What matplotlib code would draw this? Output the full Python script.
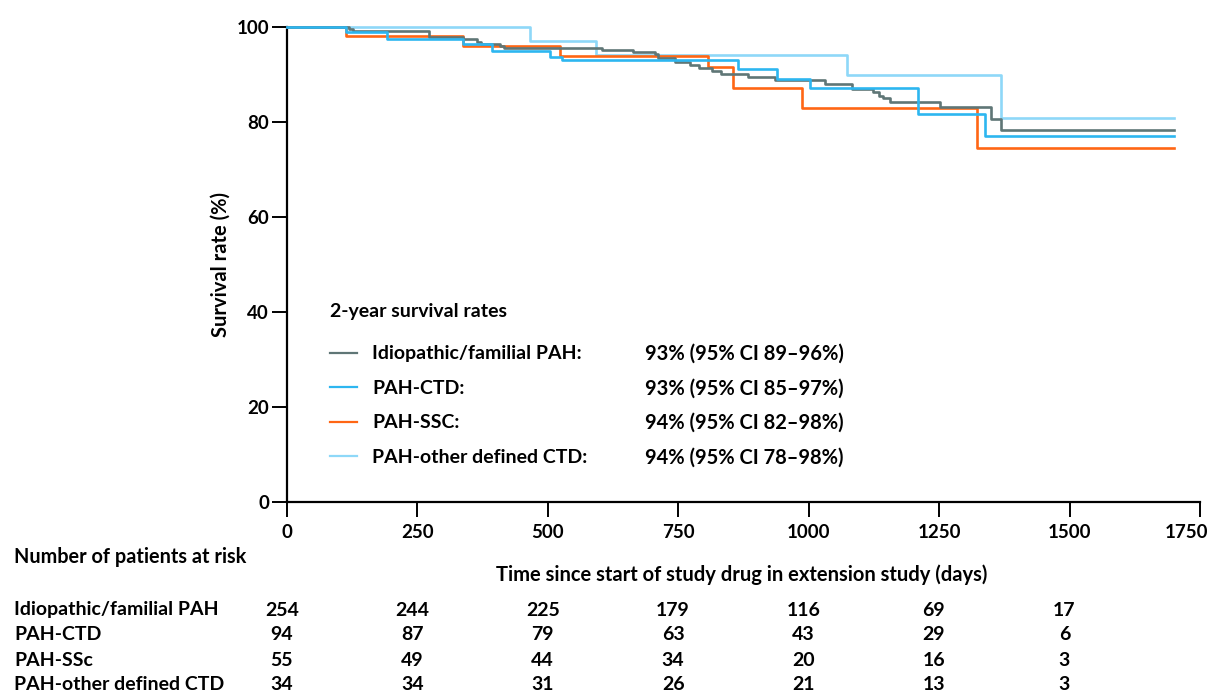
import matplotlib

matplotlib.use("Agg")
import matplotlib.pyplot as plt
from matplotlib.transforms import ScaledTranslation, blended_transform_factory

plt.rcParams["font.family"] = ["Lato", "DejaVu Sans"]

# Kaplan-Meier curves (day, survival %)
ipah_days = [0, 118, 126, 272, 338, 364, 372, 408, 415, 604, 663, 705, 712, 744,
             772, 790, 815, 832, 884, 935, 1031, 1083, 1124, 1134, 1143, 1156,
             1252, 1349, 1368, 1700]
ipah_surv = [100, 99.6, 99.2, 97.8, 97.4, 96.9, 96.5, 96.1, 95.6, 95.2, 94.8, 94.3,
             93.4, 92.6, 91.9, 91.4, 90.8, 90.1, 89.4, 88.9, 88.0, 87.0, 86.3, 85.5,
             85.0, 84.3, 83.1, 80.6, 78.4, 78.4]
ctd_days = [0, 114, 191, 338, 393, 504, 527, 865, 939, 1003, 1209, 1338, 1700]
ctd_surv = [100, 98.9, 97.5, 96.4, 94.9, 93.7, 93.0, 91.2, 89.1, 87.1, 81.6, 77.1, 77.1]
ssc_days = [0, 114, 338, 523, 807, 854, 987, 1323, 1700]
ssc_surv = [100, 98.2, 96.0, 93.9, 91.5, 87.1, 83.0, 74.5, 74.5]
other_days = [0, 466, 592, 1073, 1368, 1700]
other_surv = [100, 97.1, 94.1, 90.0, 80.8, 80.8]

legend_labels = ["Idiopathic/familial PAH:", "PAH-CTD:", "PAH-SSC:",
                 "PAH-other defined CTD:"]
legend_rates = ["93% (95% CI 89\u201396%)", "93% (95% CI 85\u201397%)",
                "94% (95% CI 82\u201398%)", "94% (95% CI 78\u201398%)"]
colors = ["#5f7676", "#2db6f0", "#ff6614", "#8ed8f8"]

risk_times = [0, 250, 500, 750, 1000, 1250, 1500]
risk_groups = ["Idiopathic/familial PAH", "PAH-CTD", "PAH-SSc", "PAH-other defined CTD"]
risk_ipah = [254, 244, 225, 179, 116, 69, 17]
risk_ctd = [94, 87, 79, 63, 43, 29, 6]
risk_ssc = [55, 49, 44, 34, 20, 16, 3]
risk_other = [34, 34, 31, 26, 21, 13, 3]

W, H = 1217, 697
fig = plt.figure(figsize=(W / 100, H / 100), dpi=100)
ax = fig.add_axes([287 / W, 1 - 502 / H, 913 / W, 475 / H])

curves = [(ipah_days, ipah_surv), (ctd_days, ctd_surv), (ssc_days, ssc_surv),
          (other_days, other_surv)]
handles = []
for (d, s), c, z in zip(curves, colors, [3, 4, 2, 1]):
    (ln,) = ax.step(d, s, where="post", color=c, lw=1.9, zorder=z, clip_on=False)
    handles.append(ln)

ax.set_xlim(0, 1750)
ax.set_ylim(0, 100)
ax.set_xticks(range(0, 1751, 250))
ax.set_yticks(range(0, 101, 20))
for side in ["top", "right"]:
    ax.spines[side].set_visible(False)
for side in ["left", "bottom"]:
    ax.spines[side].set_linewidth(1.6)
ax.tick_params(axis="both", length=11, width=1.4, labelsize=13.5)
ax.tick_params(axis="x", pad=5)
ax.tick_params(axis="y", pad=2)
for lab in ax.get_xticklabels() + ax.get_yticklabels():
    lab.set_fontweight("bold")
# keep the last x label inside the canvas
last = ax.get_xticklabels()[-1]
last.set_transform(last.get_transform() + ScaledTranslation(-14 / 100, 0, fig.dpi_scale_trans))
ax.set_ylabel("Survival rate (%)", fontsize=14.5, fontweight="bold", labelpad=4)

leg = ax.legend(handles, legend_labels, loc="upper left",
                bbox_to_anchor=(43 / 913, 0.33), frameon=False,
                fontsize=14, handlelength=1.4, handletextpad=0.78,
                labelspacing=0.9, borderaxespad=0, borderpad=0)
for t in leg.get_texts():
    t.set_fontweight("bold")
for h in leg.legend_handles:
    h.set_linewidth(1.6)

# line the first legend row up with the reference, then add title and rates
fig.canvas.draw()
bb = leg.get_texts()[0].get_window_extent()
dy = (H - 354) - (bb.y0 + bb.y1) / 2
x0, y0 = ax.transAxes.transform((43 / 913, 0.33))
leg.set_bbox_to_anchor(ax.transAxes.inverted().transform((x0, y0 + dy)),
                       transform=ax.transAxes)
fig.canvas.draw()

fig.text(330 / W, 1 - 312 / H, "2-year survival rates", fontsize=14,
         fontweight="bold", ha="left", va="center")
inv = fig.transFigure.inverted()
for t, rate in zip(leg.get_texts(), legend_rates):
    bb = t.get_window_extent()
    y = inv.transform((0, (bb.y0 + bb.y1) / 2))[1]
    fig.text(645 / W, y, rate, fontsize=14.5, fontweight="bold", va="center",
             ha="left")

# x label sits below the "patients at risk" heading
fig.text(742 / W, 1 - 575 / H,
         "Time since start of study drug in extension study (days)",
         fontsize=14.5, fontweight="bold", ha="center", va="center")
fig.text(14 / W, 1 - 557 / H, "Number of patients at risk", fontsize=14.3,
         fontweight="bold", ha="left", va="center")

trans = blended_transform_factory(ax.transData, fig.transFigure)
row_y = [610, 635, 660, 685]
for name, counts, ry in zip(risk_groups, [risk_ipah, risk_ctd, risk_ssc, risk_other],
                            row_y):
    fig.text(14 / W, 1 - ry / H, name, fontsize=14, fontweight="bold",
             ha="left", va="center")
    for t, n in zip(risk_times, counts):
        ax.text(t - 10, 1 - ry / H, str(n), transform=trans, fontsize=14,
                fontweight="bold", ha="center", va="center", clip_on=False)

fig.savefig("out.png", dpi=100)
